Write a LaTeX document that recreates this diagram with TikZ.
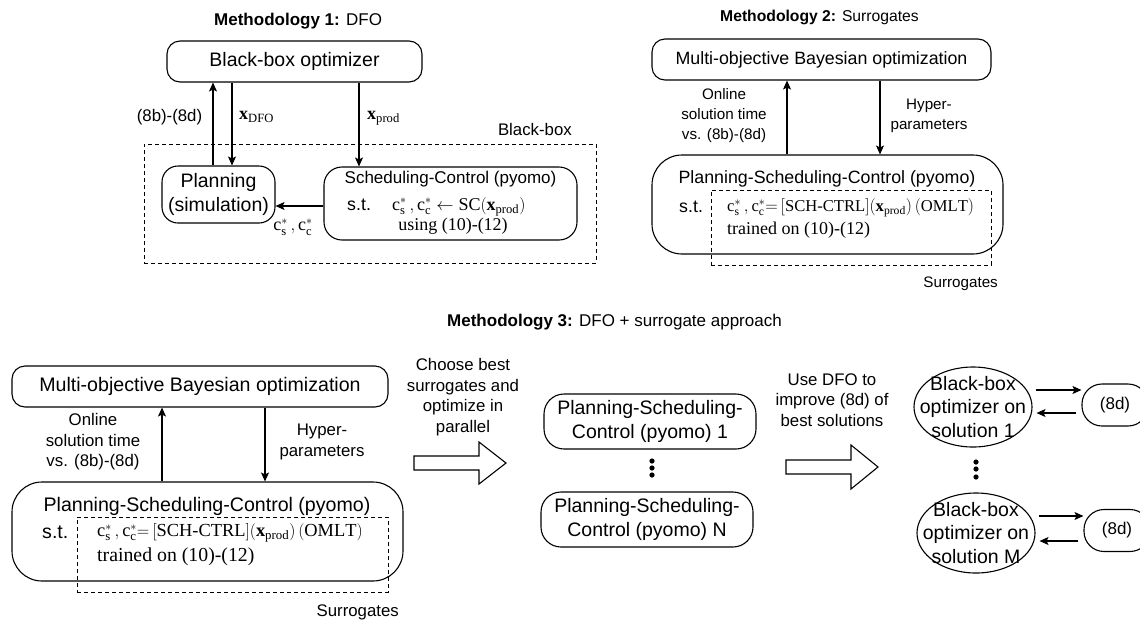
\documentclass[tikz,border=0pt]{standalone}
\usepackage{amsmath}
\usepackage{fontspec}
\setsansfont{Liberation Sans}
\setmathrm{Liberation Serif}
\newfontfamily\serf{Liberation Serif}
\usetikzlibrary{arrows.meta,shapes.geometric,positioning}

\tikzset{
  rbox/.style={draw, line width=1.1pt, rounded corners=13pt, align=center, inner sep=0pt,
    font=\sffamily\fontsize{19.5}{23.5}\selectfont},
  bigbox/.style={rbox, rounded corners=30pt},
  dashfrm/.style={draw, line width=1pt, dash pattern=on 4pt off 3pt},
  ttl/.style={font=\sffamily\fontsize{17}{20}\selectfont, anchor=west, inner sep=0pt},
  lbl/.style={font=\sffamily\fontsize{16.8}{20.5}\selectfont, align=center, inner sep=0pt},
  lblsm/.style={lbl, font=\sffamily\fontsize{15.2}{20}\selectfont},
  bigtxt/.style={font=\sffamily\fontsize{19.6}{23}\selectfont, inner sep=0pt},
  midtxt/.style={font=\sffamily\fontsize{17.8}{21}\selectfont, inner sep=0pt},
  mathtxt/.style={font=\serf\fontsize{18}{21}\selectfont, inner sep=0pt},
  arr/.style={-{Stealth[length=9pt,width=8pt,inset=2pt]}, line width=1.1pt},
  fat/.style={draw, line width=1.1pt, fill=white, line join=miter},
}

\begin{document}
\begin{tikzpicture}[x=1pt,y=-1pt]
\useasboundingbox (0,0) rectangle (1140,622);

% Methodology 1
\node[ttl] (ttlA) at (214,21) {\textbf{Methodology 1:} DFO};
\node[rbox, minimum width=255, minimum height=41] (bboA) at (294.5,61.5) {Black-box optimizer};
\node[rbox, rounded corners=16pt, minimum width=113, minimum height=57] (plan) at (218.5,194.5) {Planning\\(simulation)};
\node[rbox, rounded corners=18pt, minimum width=253, minimum height=73] (sc) at (450.5,203.5) {};
\node[midtxt, font=\sffamily\fontsize{17}{20}\selectfont] (scT) at (450.5,179) {Scheduling-Control (pyomo)};
\node[midtxt, anchor=west] (scS) at (347,205) {s.t.};
\node[mathtxt, anchor=west] (scM) at (392,206.5) {$\mathrm{c}_\mathrm{s}^{*}\,,\mathrm{c}_\mathrm{c}^{*}\leftarrow\mathrm{SC}(\mathbf{x}_\mathrm{prod})$};
\node[mathtxt] (scU) at (453,226) {using (10)-(12)};
\node[dashfrm, minimum width=452, minimum height=119] (bbfrm) at (370,203.5) {};
\node[lbl, anchor=east] (bbL) at (572,129) {Black-box};

\draw[arr] ([xshift=-5.5]plan.north) -- ([xshift=-5.5]plan.north |- bboA.south);
\draw[arr] ([xshift=13.5]plan.north |- bboA.south) -- ([xshift=13.5]plan.north);
\draw[arr] ([xshift=-91.5]sc.north |- bboA.south) -- ([xshift=-91.5]sc.north);
\draw[arr] ([yshift=-2.5]sc.west) -- ([yshift=-2.5]sc.west -| plan.east);
\node[lbl] (fbA) at (169.5,117) {(8b)-(8d)};
\node[mathtxt, anchor=west] (xdfo) at (239,117) {$\mathbf{x}_\mathrm{DFO}$};
\node[mathtxt, anchor=west] (xprod) at (367,118) {$\mathbf{x}_\mathrm{prod}$};
\node[mathtxt] (cst) at (293,227) {$\mathrm{c}_\mathrm{s}^{*}\,,\mathrm{c}_\mathrm{c}^{*}$};

% Methodology 2
\node[ttl, font=\sffamily\fontsize{15.7}{18}\selectfont] (ttlB) at (720,17) {\textbf{Methodology 2:} Surrogates};
\node[rbox, midtxt, minimum width=339, minimum height=41] (moboB) at (821.5,59.5) {Multi-objective Bayesian optimization};
\node[bigbox, minimum width=351, minimum height=99] (pscB) at (827.5,204.5) {};
\node[midtxt] (pscBT) at (827,179) {Planning-Scheduling-Control (pyomo)};
\node[midtxt, anchor=west] (pscBS) at (679,207) {s.t.};
\node[mathtxt, font=\serf\fontsize{16.6}{20}\selectfont, anchor=west] (pscBM) at (727,207.5) {$\mathrm{c}_\mathrm{s}^{*}\,,\mathrm{c}_\mathrm{c}^{*}{=}\,[\mathrm{SCH\text{-}CTRL}](\mathbf{x}_\mathrm{prod})\,(\mathrm{OMLT})$};
\node[mathtxt, anchor=west] (pscBU) at (727,230) {trained on (10)-(12)};
\node[dashfrm, minimum width=280, minimum height=75] (surB) at (851,227.5) {};
\node[lblsm, anchor=east] (surBL) at (998,284) {Surrogates};

\draw[arr] ([xshift=-40.5]pscB.north) -- ([xshift=-40.5]pscB.north |- moboB.south);
\draw[arr] ([xshift=52.5]pscB.north |- moboB.south) -- ([xshift=52.5]pscB.north);
\node[lblsm] (onB) at (724,116) {Online\\solution time\\vs. (8b)-(8d)};
\node[lblsm] (hypB) at (929,116) {Hyper-\\parameters};

% Methodology 3
\node[ttl] (ttlC) at (447,322) {\textbf{Methodology 3:} DFO + surrogate approach};
\node[rbox, bigtxt, minimum width=376, minimum height=41] (moboC) at (200,386.5) {Multi-objective Bayesian optimization};
\node[bigbox, minimum width=391, minimum height=99] (pscC) at (207.5,531.5) {};
\node[bigtxt] (pscCT) at (207,506.5) {Planning-Scheduling-Control (pyomo)};
\node[bigtxt, anchor=west] (pscCS) at (42,532) {s.t.};
\node[mathtxt, font=\serf\fontsize{18.4}{22}\selectfont, anchor=west] (pscCM) at (97,533) {$\mathrm{c}_\mathrm{s}^{*}\,,\mathrm{c}_\mathrm{c}^{*}{=}\,[\mathrm{SCH\text{-}CTRL}](\mathbf{x}_\mathrm{prod})\,(\mathrm{OMLT})$};
\node[mathtxt, font=\serf\fontsize{19.8}{23}\selectfont, anchor=west] (pscCU) at (97,557) {trained on (10)-(12)};
\node[dashfrm, minimum width=311, minimum height=75] (surC) at (232.5,554.5) {};
\node[lbl, anchor=east] (surCL) at (399,612) {Surrogates};

\draw[arr] ([xshift=-45.5]pscC.north) -- ([xshift=-45.5]pscC.north |- moboC.south);
\draw[arr] ([xshift=57.5]pscC.north |- moboC.south) -- ([xshift=57.5]pscC.north);
\node[lbl] (onC) at (93,442) {Online\\solution time\\vs. (8b)-(8d)};
\node[lbl] (hypC) at (322,442) {Hyper-\\parameters};

\draw[fat] (414,456) -- (479,456) -- (479,442) -- (506,463) -- (479,484) -- (479,470) -- (414,470) -- cycle;
\node[lbl] (chooseL) at (463,397) {Choose best\\surrogates and\\optimize in\\parallel};

\node[rbox, rounded corners=20pt, minimum width=212, minimum height=55] (psc1) at (650,421.5) {Planning-Scheduling-\\Control (pyomo) 1};
\node[rbox, rounded corners=20pt, minimum width=212, minimum height=55] (pscN) at (647,519.5) {Planning-Scheduling-\\Control (pyomo) N};
\foreach \y in {461,468,475}
  \fill (652,\y) circle (2.6pt);

\draw[fat] (786,460) -- (851,460) -- (851,445) -- (878,467) -- (851,489) -- (851,474) -- (786,474) -- cycle;
\node[lbl] (dfoL) at (832,400) {Use DFO to\\improve (8d) of\\best solutions};

\node[draw, line width=1.1pt, ellipse, minimum width=118, minimum height=80] (bb1) at (973,407) {};
\node[bigtxt, align=center, font=\sffamily\fontsize{19.5}{23.5}\selectfont] (bb1T) at (bb1) {Black-box\\optimizer on\\solution 1};
\node[draw, line width=1.1pt, ellipse, minimum width=118, minimum height=80] (bbM) at (976,533) {};
\node[bigtxt, align=center, font=\sffamily\fontsize{19.5}{23.5}\selectfont] (bbMT) at (bbM) {Black-box\\optimizer on\\solution M};
\foreach \y in {462,469,477}
  \fill (976,\y) circle (2.6pt);

\node[rbox, rounded corners=20pt, minimum width=66, minimum height=42, font=\sffamily\fontsize{17}{20}\selectfont] (d1) at (1115,405) {(8d)};
\node[rbox, rounded corners=20pt, minimum width=66, minimum height=42, font=\sffamily\fontsize{17}{20}\selectfont] (dM) at (1117,530.5) {(8d)};

\draw[arr] ([xshift=3,yshift=17]bb1.east) -- ([yshift=17]bb1.east -| d1.west);
\draw[arr] ([xshift=-5,yshift=-8]d1.west) -- ([xshift=4,yshift=-8]bb1.east |- d1.west);
\draw[arr] ([xshift=3,yshift=17]bbM.east) -- ([yshift=17]bbM.east -| dM.west);
\draw[arr] ([xshift=-5,yshift=-10.5]dM.west) -- ([xshift=4,yshift=-10.5]bbM.east |- dM.west);
\end{tikzpicture}
\end{document}
